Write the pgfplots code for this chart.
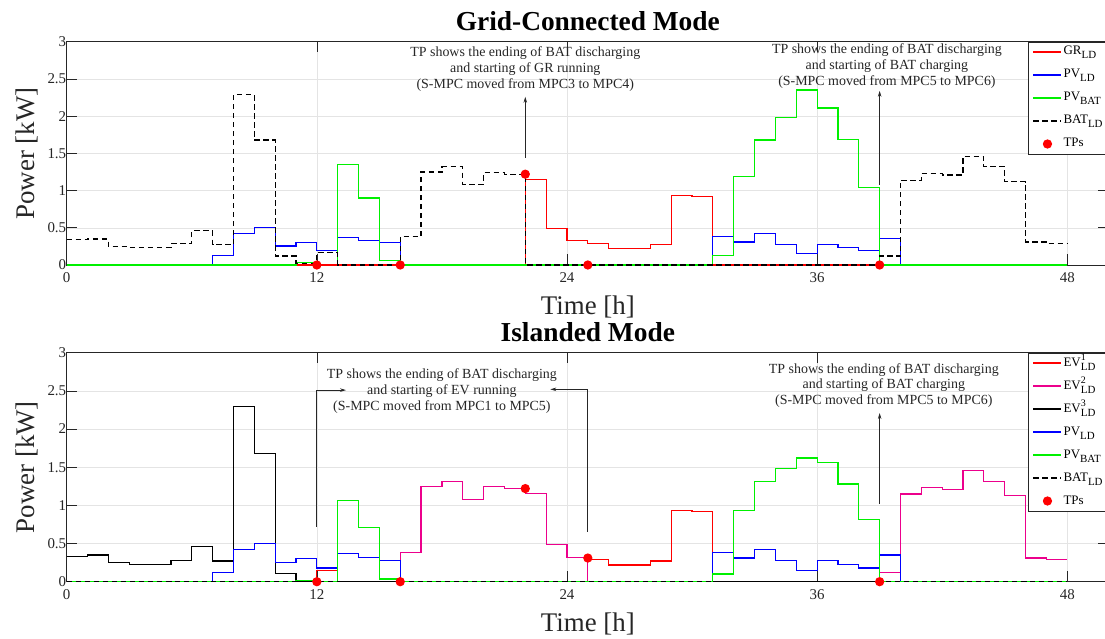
\documentclass[border=0pt]{standalone}
\usepackage{fontspec}
\setmainfont{Liberation Serif}
\usepackage{pgfplots}
\usepackage{pgfplotstable}
\pgfplotsset{compat=1.18}
\usetikzlibrary{arrows.meta}

\definecolor{axgray}{RGB}{38,38,38}
\definecolor{gridgray}{RGB}{228,228,228}
\definecolor{cgreen}{RGB}{0,240,0}

\newcommand{\sub}[1]{\raisebox{-4bp}{\fontsize{11}{12}\selectfont #1}}
\newcommand{\supsub}[2]{\rlap{\raisebox{5.5bp}{\fontsize{10}{12}\selectfont #1}}\raisebox{-4bp}{\fontsize{11}{12}\selectfont #2}}

\pgfplotstableread{
x gr pv pvb bat
0 0 0 0 0.34
1 0 0 0 0.35
2 0 0 0 0.25
3 0 0 0 0.24
4 0 0 0 0.24
5 0 0 0 0.29
6 0 0 0 0.46
7 0 0.125 0 0.27
8 0 0.425 0 2.29
9 0 0.50 0 1.68
10 0 0.255 0 0.12
11 0 0.30 0.03 0.02
12 0 0.19 0 0.165
13 0 0.37 1.35 0
14 0 0.33 0.90 0
15 0 0.30 0.06 0
16 0 0 0 0.38
17 0 0 0 1.25
18 0 0 0 1.32
19 0 0 0 1.085
20 0 0 0 1.24
21 0 0 0 1.22
22 1.15 0 0 0
23 0.49 0 0 0
24 0.33 0 0 0
25 0.29 0 0 0
26 0.22 0 0 0
27 0.22 0 0 0
28 0.28 0 0 0
29 0.93 0 0 0
30 0.92 0 0 0
31 0 0.38 0.13 0
32 0 0.31 1.19 0
33 0 0.42 1.68 0
34 0 0.28 1.98 0
35 0 0.15 2.35 0
36 0 0.28 2.11 0
37 0 0.24 1.69 0
38 0 0.19 1.04 0
39 0 0.36 0 0.12
40 0 0 0 1.14
41 0 0 0 1.23
42 0 0 0 1.21
43 0 0 0 1.46
44 0 0 0 1.32
45 0 0 0 1.12
46 0 0 0 0.31
47 0 0 0 0.29
48 0 0 0 0.29
}\toptable

\pgfplotstableread{
x ev1 ev2 ev3 pv pvb bat
0 0 0 0.33 0 0 0
1 0 0 0.35 0 0 0
2 0 0 0.25 0 0 0
3 0 0 0.23 0 0 0
4 0 0 0.23 0 0 0
5 0 0 0.275 0 0 0
6 0 0 0.46 0 0 0
7 0 0 0.27 0.12 0 0
8 0 0 2.29 0.42 0 0
9 0 0 1.68 0.50 0 0
10 0 0 0.11 0.25 0 0
11 0 0 0.01 0.30 0.02 0
12 0.15 0 0 0.18 0 0
13 0 0 0 0.37 1.06 0
14 0 0 0 0.32 0.71 0
15 0 0 0 0.28 0.035 0
16 0 0.38 0 0 0 0
17 0 1.25 0 0 0 0
18 0 1.31 0 0 0 0
19 0 1.08 0 0 0 0
20 0 1.245 0 0 0 0
21 0 1.22 0 0 0 0
22 0 1.16 0 0 0 0
23 0 0.49 0 0 0 0
24 0 0.315 0 0 0 0
25 0.29 0 0 0 0 0
26 0.22 0 0 0 0 0
27 0.22 0 0 0 0 0
28 0.27 0 0 0 0 0
29 0.93 0 0 0 0 0
30 0.92 0 0 0 0 0
31 0 0 0 0.38 0.10 0
32 0 0 0 0.31 0.93 0
33 0 0 0 0.42 1.31 0
34 0 0 0 0.28 1.48 0
35 0 0 0 0.15 1.62 0
36 0 0 0 0.275 1.56 0
37 0 0 0 0.23 1.28 0
38 0 0 0 0.18 0.82 0
39 0 0.12 0 0.35 0 0
40 0 1.15 0 0 0 0
41 0 1.23 0 0 0 0
42 0 1.21 0 0 0 0
43 0 1.46 0 0 0 0
44 0 1.31 0 0 0 0
45 0 1.13 0 0 0 0
46 0 0.31 0 0 0 0
47 0 0.29 0 0 0 0
48 0 0.29 0 0 0 0
}\bottable

\tikzset{
  annot/.style={align=center, font=\fontsize{14}{16}\selectfont, text=axgray, inner sep=0pt},
  arr/.style={axgray, line width=0.8bp, -{Stealth[length=6bp,width=3.5bp]}},
}

\pgfplotsset{
  myax/.style={
    scale only axis, width=1042.3bp,
    xmin=0, xmax=50, ymin=0, ymax=3,
    xtick={0,12,24,36,48},
    ytick={0,0.5,1,1.5,2,2.5,3},
    yticklabels={0,0.5,1,1.5,2,2.5,3},
    grid=major, major grid style={gridgray, line width=0.5bp},
    tick align=inside, major tick length=10.5bp,
    axis line style={axgray, line width=0.6bp},
    tick style={axgray, line width=0.6bp},
    /pgf/number format/assume math mode=true,
    ticklabel style={font=\fontsize{15}{18}\selectfont, text=axgray},
    xticklabel style={yshift=-4bp},
    yticklabel style={xshift=3bp},
    clip=false,
    xlabel={Time [h]}, ylabel={Power [kW]},
    xlabel style={font=\fontsize{27}{30}\selectfont, text=axgray, at={(axis description cs:0.5,0)}, anchor=base, yshift=-49.3bp},
    ylabel style={font=\fontsize{27}{30}\selectfont, text=axgray, at={(axis description cs:-0.0275,0.5)}, anchor=south, inner sep=0pt},
    title style={font=\bfseries\fontsize{27.5}{30}\selectfont, at={(axis description cs:0.5,1)}, anchor=base, yshift=5bp},
    const plot,
    every axis plot/.append style={line width=1.2bp},
    legend style={at={(1,1)}, anchor=north east, draw=axgray, line width=0.6bp, fill=white,
      font=\fontsize{13}{15}\selectfont, inner xsep=4.5bp, inner ysep=2bp, row sep=7bp,
      nodes={inner xsep=1.5bp, inner ysep=1bp, text height=10bp, text depth=4bp},
      cells={anchor=west}},
    legend image code/.code={\draw[mark repeat=2,mark phase=2,#1] plot coordinates {(0bp,0bp) (14bp,0bp) (28bp,0bp)};},
  },
  tpstyle/.style={only marks, mark=*, mark size=4bp, mark options={fill=red, draw=red}, red},
  bstyle/.style={black, dash pattern=on 5.5bp off 3.5bp},
}

\begin{document}
\begin{tikzpicture}
\begin{axis}[myax, at={(66.7bp,374bp)}, anchor=south west, height=223.3bp,
  title={Grid-Connected Mode}]
\addplot[red] table[x=x,y=gr] {\toptable};
\addlegendentry{GR\sub{LD}}
\addplot[blue] table[x=x,y=pv] {\toptable};
\addlegendentry{PV\sub{LD}}
\addplot[cgreen] table[x=x,y=pvb] {\toptable};
\addlegendentry{PV\sub{BAT}}
\addplot[red, forget plot] coordinates {(12,0) (16,0)};
\addplot[red, forget plot] coordinates {(31,0) (39,0)};
\addplot[bstyle] table[x=x,y=bat] {\toptable};
\addlegendentry{BAT\sub{LD}}
\addplot[tpstyle] coordinates {(12,0) (16,0) (22,1.22) (25,0) (39,0)};
\addlegendentry{TPs}
\node[annot] at (axis cs:22,2.63) {TP shows the ending of BAT discharging\\and starting of GR running\\(S-MPC moved from MPC3 to MPC4)};
\draw[arr] (axis cs:22,1.44) -- (axis cs:22,2.26);
\node[annot] at (axis cs:39.35,2.67) {TP shows the ending of BAT discharging\\and starting of BAT charging\\(S-MPC moved from MPC5 to MPC6)};
\draw[arr] (axis cs:39,1.07) -- (axis cs:39,2.34);
\end{axis}

\begin{axis}[myax, at={(66.7bp,57.3bp)}, anchor=south west, height=229bp,
  title={Islanded Mode}]
\addplot[red] table[x=x,y=ev1] {\bottable};
\addlegendentry{EV\supsub{1}{LD}}
\addplot[magenta] table[x=x,y=ev2] {\bottable};
\addlegendentry{EV\supsub{2}{LD}}
\addplot[black] table[x=x,y=ev3] {\bottable};
\addlegendentry{EV\supsub{3}{LD}}
\addplot[blue] table[x=x,y=pv] {\bottable};
\addlegendentry{PV\sub{LD}}
\addplot[cgreen] table[x=x,y=pvb] {\bottable};
\addlegendentry{PV\sub{BAT}}
\addplot[bstyle] table[x=x,y=bat] {\bottable};
\addlegendentry{BAT\sub{LD}}
\addplot[tpstyle] coordinates {(12,0) (16,0) (22,1.22) (25,0.31) (39,0)};
\addlegendentry{TPs}
\node[annot] at (axis cs:18,2.50) {TP shows the ending of BAT discharging\\and starting of EV running\\(S-MPC moved from MPC1 to MPC5)};
\draw[arr] (axis cs:12,0.72) -- (axis cs:12,2.51) -- (axis cs:13.4,2.51);
\draw[arr] (axis cs:25,0.655) -- (axis cs:25,2.52) -- (axis cs:23.2,2.52);
\node[annot] at (axis cs:39.2,2.57) {TP shows the ending of BAT discharging\\and starting of BAT charging\\(S-MPC moved from MPC5 to MPC6)};
\draw[arr] (axis cs:39,1.02) -- (axis cs:39,2.21);
\end{axis}
\pgfresetboundingbox
\path[use as bounding box] (0,0) rectangle (1105bp,639bp);
\end{tikzpicture}
\end{document}
